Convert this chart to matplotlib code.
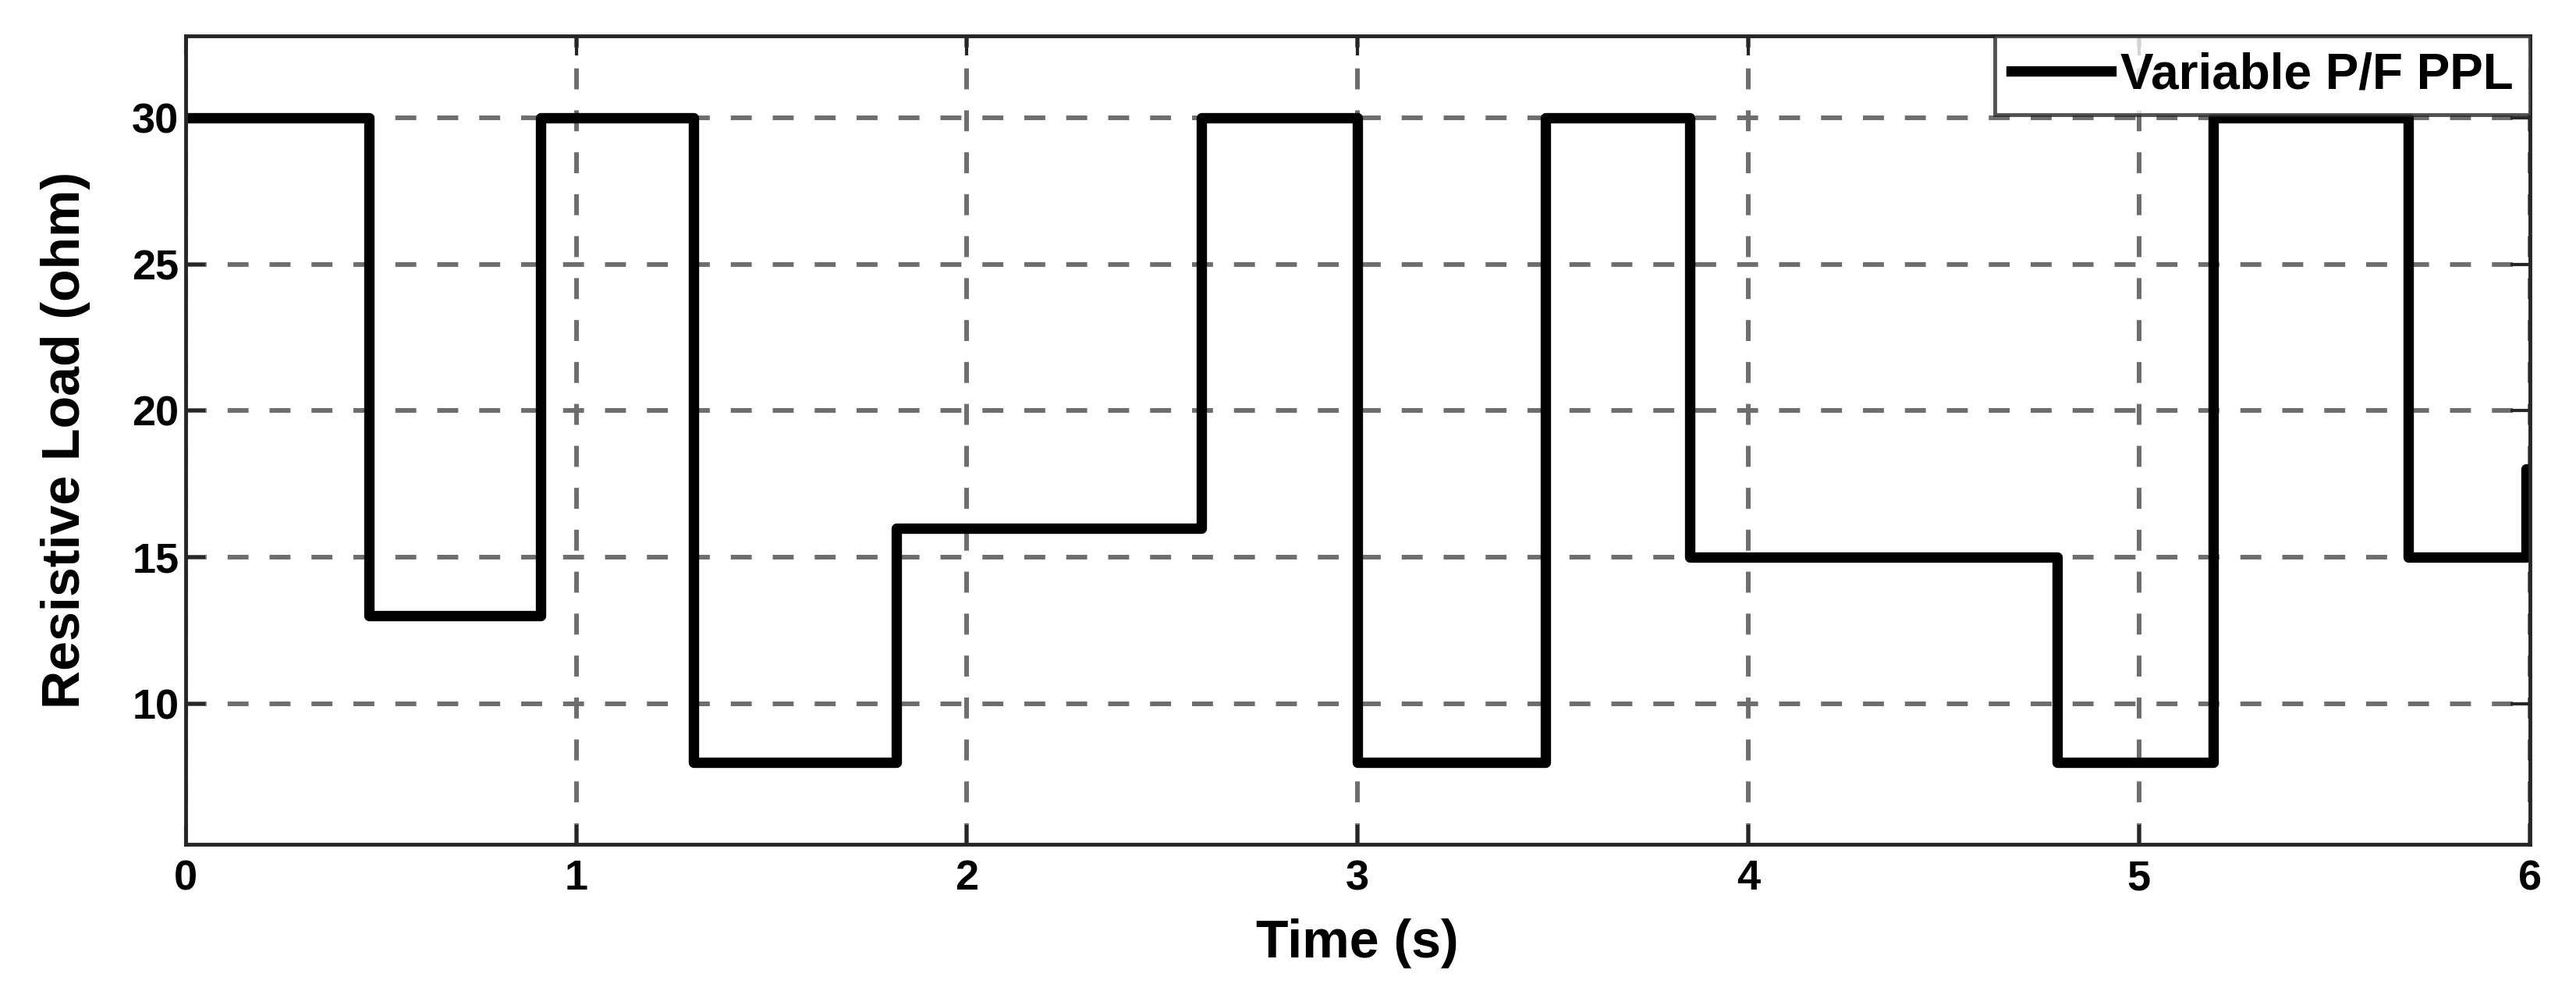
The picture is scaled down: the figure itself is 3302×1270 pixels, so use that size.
import numpy as np
import matplotlib
matplotlib.use("Agg")
import matplotlib.pyplot as plt

# step times (s) and resistive load (ohm) held from each time on
t_steps = [0.0, 0.47, 0.91, 1.30, 1.82, 2.60, 3.00, 3.48, 3.85, 4.79, 5.19, 5.69, 5.99]
r_load = [30, 13, 30, 8, 16, 30, 8, 30, 15, 8, 30, 15, 18]
t_end = 6.0

x_ticks = [0, 1, 2, 3, 4, 5, 6]
y_ticks = [10, 15, 20, 25, 30]

plt.rcParams["font.family"] = ["Liberation Sans", "DejaVu Sans"]
plt.rcParams["font.weight"] = "bold"

fig = plt.figure(figsize=(33.02, 12.70), dpi=100)
ax = fig.add_axes([0.072, 0.148, 0.910, 0.816])

t = np.array(t_steps + [t_end])
r = np.array(r_load + [r_load[-1]])
ax.step(t, r, where="post", color="black", lw=9.6, label="Variable P/F PPL")

ax.set_xlim(0, 6)
ax.set_ylim(5.2, 32.8)
ax.set_xticks(x_ticks)
ax.set_yticks(y_ticks)

ax.grid(True, color="#6e6e6e", lw=4.3, linestyle=(0, (4.5, 4.5)))
ax.tick_params(axis="both", direction="in", length=18, width=3,
               labelsize=39, top=True, right=True, color="#262626")
ax.tick_params(axis="x", pad=14)
ax.tick_params(axis="y", pad=6)
for lab in ax.get_xticklabels() + ax.get_yticklabels():
    lab.set_fontweight("bold")
for s in ax.spines.values():
    s.set_linewidth(3.5)
    s.set_color("#262626")

ax.set_xlabel("Time (s)", fontsize=49, fontweight="bold", va="center")
ax.set_ylabel("Resistive Load (ohm)", fontsize=49, fontweight="bold", va="center")
ax.xaxis.set_label_coords(0.5, -0.1226)
ax.yaxis.set_label_coords(-0.0512, 0.5)

leg = ax.legend(loc="upper right", fontsize=46, frameon=True, fancybox=False,
                borderaxespad=0, handlelength=2.0, handletextpad=0.2,
                borderpad=0.32)
leg.get_frame().set_edgecolor("#262626")
leg.get_frame().set_linewidth(3.5)
for txt in leg.get_texts():
    txt.set_fontweight("bold")

fig.savefig("out.png", dpi=100, facecolor="white")
